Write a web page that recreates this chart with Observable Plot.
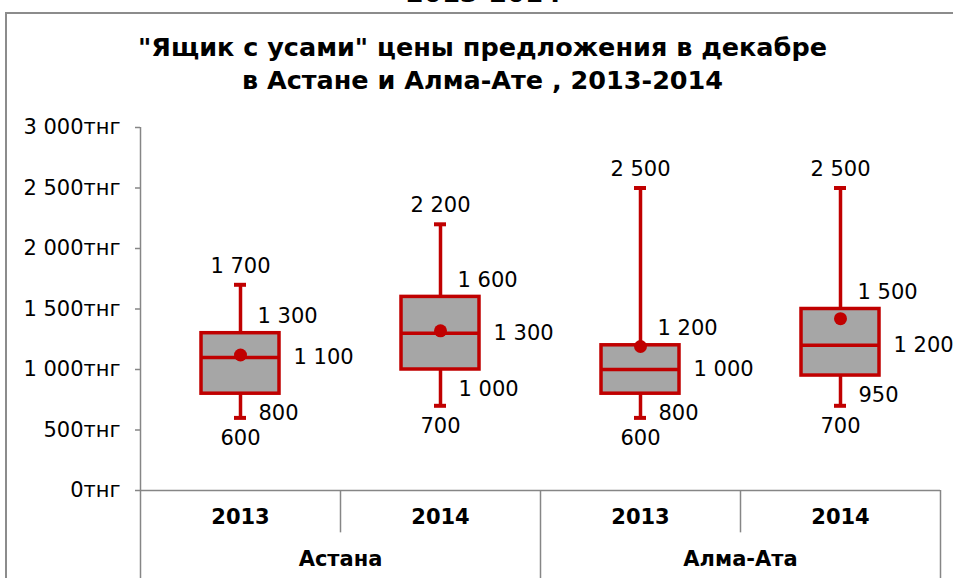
<!DOCTYPE html>
<html><head><meta charset="utf-8">
<script src="https://cdn.jsdelivr.net/npm/d3@7"></script>
<script src="https://cdn.jsdelivr.net/npm/@observablehq/plot@0.6"></script>
<style>
body{margin:0;background:#fff;}
#wrap{position:relative;width:953px;height:578px;overflow:hidden;font-family:"DejaVu Sans",Verdana,sans-serif;color:#000;}
#cut{position:absolute;left:0;width:953px;top:-21px;text-align:center;font-weight:bold;font-size:26px;line-height:28px;padding-left:14px;box-sizing:border-box;}
#frame{position:absolute;left:5px;top:12px;width:1000px;height:1000px;border:2px solid #8c8c8c;box-sizing:border-box;}
#title{position:absolute;left:0;width:953px;top:31px;text-align:center;font-weight:bold;font-size:25.5px;line-height:33px;padding-left:12px;box-sizing:border-box;}
#chart{position:absolute;left:0;top:0;}
</style></head>
<body>
<div id="wrap">
  <div id="cut">2013-2014</div>
  <div id="frame"></div>
  <div id="title">"Ящик с усами" цены предложения в декабре<br>в Астане и Алма-Ате , 2013-2014</div>
  <div id="chart"></div>
</div>
<script>
const cities  = ["Астана", "Астана", "Алма-Ата", "Алма-Ата"];
const years   = ["2013", "2014", "2013", "2014"];
const mins    = [600, 700, 600, 700];
const q1s     = [800, 1000, 800, 950];
const medians = [1100, 1300, 1000, 1200];
const q3s     = [1300, 1600, 1200, 1500];
const maxs    = [1700, 2200, 2500, 2500];
const means   = [1120, 1320, 1190, 1420];
const yTicks  = [0, 500, 1000, 1500, 2000, 2500, 3000];

const data = cities.map((c, i) => ({
  key: c + " " + years[i], city: c, year: years[i],
  min: mins[i], q1: q1s[i], median: medians[i], q3: q3s[i], max: maxs[i], mean: means[i]
}));
const keys = data.map(d => d.key);
const cityFirst = data.filter((d, i) => i === 0 || data[i - 1].city !== d.city);

const loc = d3.formatLocale({decimal: ",", thousands: " ", grouping: [3], currency: ["", ""]});
const fmt = loc.format(",d");

const RED = "#c00000", GRAY = "#868686", FS = 21;

const chart = Plot.plot({
  width: 953, height: 578,
  marginLeft: 140, marginRight: 13, marginTop: 127, marginBottom: 88,
  x: {type: "band", domain: keys, padding: 0, axis: null},
  y: {domain: [0, 3000], axis: null},
  style: {background: "transparent", fontFamily: "'DejaVu Sans', Verdana, sans-serif", fontSize: FS + "px", color: "#000", overflow: "visible"},
  marks: [
    Plot.axisY({ticks: yTicks, tickFormat: v => fmt(v) + "тнг", tickSize: 5, tickPadding: 15, stroke: GRAY, fill: "#000", fontSize: FS, strokeWidth: 1.5}),
    Plot.ruleY([0], {stroke: GRAY, strokeWidth: 1.5}),
    Plot.ruleX([keys[0]], {dx: -100, y1: -730, y2: 3000, stroke: GRAY, strokeWidth: 1.5}),
    Plot.ruleX(data, {x: "key", dx: 100, y1: 0, y2: d => d.year === "2014" ? -730 : -350, stroke: GRAY, strokeWidth: 1.5}),
    Plot.text(data, {x: "key", text: "year", frameAnchor: "bottom", dy: 33, fontWeight: "bold", fontSize: FS}),
    Plot.text(cityFirst, {x: "key", text: "city", frameAnchor: "bottom", dy: 75, dx: 100, fontWeight: "bold", fontSize: FS}),
    Plot.ruleX(data, {x: "key", y1: "q3", y2: "max", stroke: RED, strokeWidth: 3.5}),
    Plot.ruleX(data, {x: "key", y1: "min", y2: "q1", stroke: RED, strokeWidth: 3.5}),
    Plot.tickY(data, {x: "key", y: "max", insetLeft: 94, insetRight: 94, stroke: RED, strokeWidth: 4}),
    Plot.tickY(data, {x: "key", y: "min", insetLeft: 94, insetRight: 94, stroke: RED, strokeWidth: 4}),
    Plot.barY(data, {x: "key", y1: "q1", y2: "q3", insetLeft: 61, insetRight: 61, fill: "#a6a6a6", stroke: RED, strokeWidth: 3.5}),
    Plot.tickY(data, {x: "key", y: "median", insetLeft: 61, insetRight: 61, stroke: RED, strokeWidth: 3.5}),
    Plot.dot(data, {x: "key", y: "mean", r: 6.5, fill: RED, stroke: "none"}),
    Plot.text(data, {x: "key", y: "max", text: d => fmt(d.max), dy: -19, fontSize: FS}),
    Plot.text(data, {x: "key", y: "min", text: d => fmt(d.min), dy: 20, fontSize: FS}),
    Plot.text(data, {x: "key", y: "q3", text: d => fmt(d.q3), dx: 17, dy: -17, textAnchor: "start", fontSize: FS}),
    Plot.text(data, {x: "key", y: "median", text: d => fmt(d.median), dx: 53, textAnchor: "start", fontSize: FS}),
    Plot.text(data, {x: "key", y: "q1", text: d => fmt(d.q1), dx: 18, dy: 20, textAnchor: "start", fontSize: FS})
  ]
});
document.getElementById("chart").appendChild(chart);
</script>
</body></html>
